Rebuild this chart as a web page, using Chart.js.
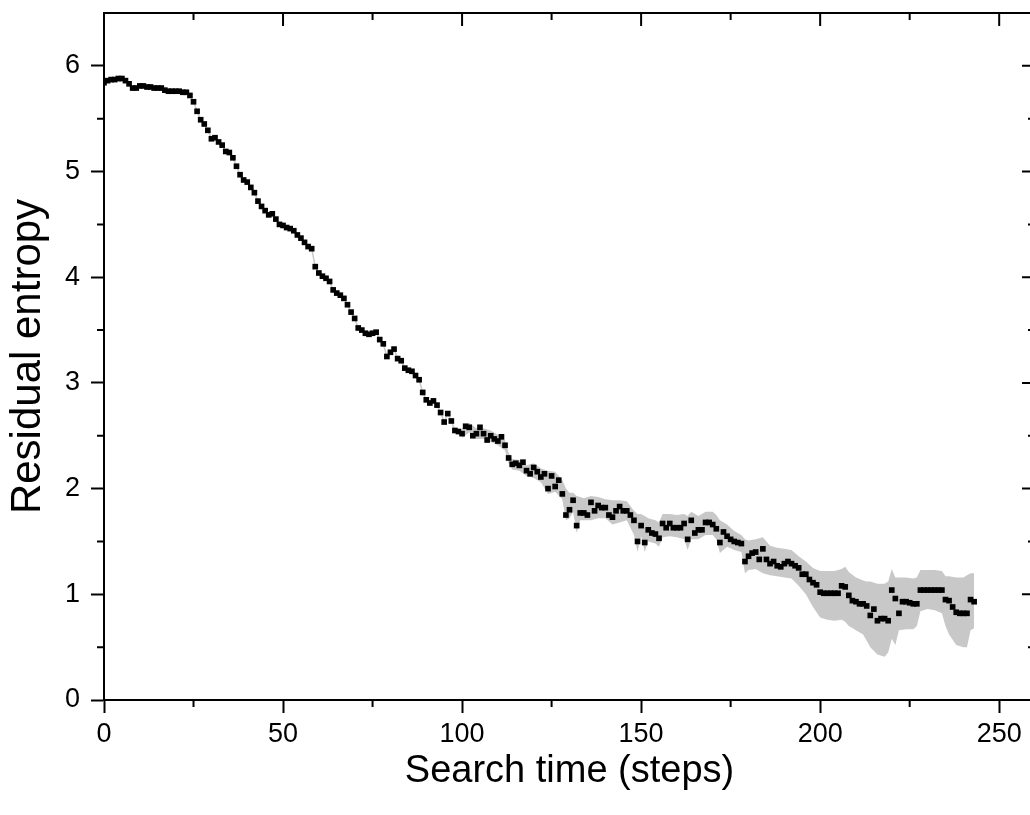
<!DOCTYPE html>
<html>
<head>
<meta charset="utf-8">
<script src="https://cdn.jsdelivr.net/npm/chart.js@4.4.0/dist/chart.umd.min.js"></script>
<style>
  html, body { margin: 0; padding: 0; background: #fff; overflow: hidden; }
  canvas { display: block; }
</style>
</head>
<body>
<canvas id="chart" width="1040" height="815"></canvas>
<script>
// residual entropy at each search step (0..243)
const entropy = [
  5.84, 5.86, 5.87, 5.87, 5.88, 5.88, 5.86, 5.83, 5.79, 5.79,
  5.81, 5.81, 5.80, 5.80, 5.79, 5.79, 5.79, 5.77, 5.76, 5.76,
  5.76, 5.76, 5.75, 5.75, 5.72, 5.66, 5.57, 5.49, 5.45, 5.39,
  5.31, 5.32, 5.28, 5.25, 5.19, 5.18, 5.13, 5.05, 4.97, 4.92,
  4.90, 4.85, 4.80, 4.72, 4.67, 4.63, 4.59, 4.60, 4.55, 4.50,
  4.49, 4.47, 4.46, 4.44, 4.40, 4.37, 4.33, 4.29, 4.27, 4.10,
  4.04, 4.01, 3.99, 3.96, 3.88, 3.85, 3.83, 3.80, 3.74, 3.67,
  3.61, 3.52, 3.50, 3.47, 3.46, 3.47, 3.48, 3.41, 3.37, 3.25,
  3.29, 3.32, 3.23, 3.21, 3.14, 3.12, 3.11, 3.07, 3.03, 2.91,
  2.84, 2.81, 2.83, 2.79, 2.72, 2.63, 2.71, 2.64, 2.55, 2.54,
  2.52, 2.59, 2.58, 2.50, 2.52, 2.58, 2.52, 2.46, 2.50, 2.47,
  2.45, 2.49, 2.41, 2.29, 2.23, 2.24, 2.22, 2.25, 2.17, 2.14,
  2.20, 2.16, 2.11, 2.14, 2.00, 2.12, 2.02, 2.08, 1.95, 1.75,
  1.80, 1.89, 1.65, 1.77, 1.77, 1.75, 1.87, 1.79, 1.84, 1.82,
  1.82, 1.75, 1.73, 1.79, 1.83, 1.79, 1.79, 1.75, 1.70, 1.50,
  1.65, 1.49, 1.61, 1.58, 1.57, 1.53, 1.67, 1.63, 1.67, 1.63,
  1.63, 1.63, 1.67, 1.52, 1.70, 1.58, 1.61, 1.61, 1.68, 1.68,
  1.66, 1.62, 1.49, 1.59, 1.55, 1.52, 1.50, 1.49, 1.48, 1.31,
  1.36, 1.39, 1.40, 1.33, 1.43, 1.33, 1.29, 1.31, 1.27, 1.26,
  1.29, 1.31, 1.29, 1.27, 1.25, 1.19, 1.19, 1.14, 1.11, 1.09,
  1.02, 1.01, 1.01, 1.01, 1.01, 1.01, 1.08, 1.07, 0.99, 0.94,
  0.93, 0.91, 0.91, 0.89, 0.80, 0.86, 0.75, 0.77, 0.77, 0.75,
  1.04, 0.96, 0.82, 0.93, 0.93, 0.92, 0.91, 0.91, 1.04, 1.04,
  1.04, 1.04, 1.04, 1.04, 1.04, 0.95, 0.94, 0.88, 0.83, 0.82,
  0.82, 0.82, 0.95, 0.93
];

// spread band (grey), read at these steps
const bandSteps = [
  100, 102, 104, 106, 108, 110, 112, 113, 114, 116, 118, 120, 122, 124, 126, 128,
  129, 130, 131, 132, 133, 134, 136, 138, 140, 142, 144, 146, 148, 149, 150, 151,
  152, 154, 155, 156, 158, 160, 162, 163, 164, 166, 168, 170, 171, 172, 174, 176,
  178, 179, 180, 182, 184, 186, 188, 190, 192, 194, 196, 198, 200, 202, 204, 206,
  207, 208, 210, 212, 213, 214, 216, 218, 219, 220, 221, 222, 224, 226, 227, 228,
  230, 232, 234, 235, 236, 238, 240, 241, 242, 243
];
const bandUpper = [
  2.57, 2.62, 2.57, 2.57, 2.55, 2.51, 2.46, 2.34, 2.28, 2.27, 2.22, 2.24, 2.19, 2.17, 2.16, 2.08,
  2.00, 1.96, 1.96, 1.93, 1.92, 1.91, 1.93, 1.92, 1.90, 1.89, 1.89, 1.88, 1.79, 1.76, 1.76, 1.74,
  1.72, 1.70, 1.68, 1.76, 1.76, 1.75, 1.76, 1.74, 1.78, 1.74, 1.78, 1.78, 1.75, 1.70, 1.66, 1.60,
  1.56, 1.52, 1.51, 1.52, 1.54, 1.46, 1.44, 1.43, 1.42, 1.36, 1.31, 1.25, 1.22, 1.22, 1.22, 1.24,
  1.26, 1.21, 1.16, 1.13, 1.12, 1.12, 1.10, 1.10, 1.12, 1.24, 1.16, 1.16, 1.16, 1.15, 1.16, 1.23,
  1.23, 1.23, 1.22, 1.17, 1.17, 1.16, 1.16, 1.18, 1.20, 1.20
];
const bandLower = [
  2.48, 2.53, 2.47, 2.47, 2.44, 2.41, 2.36, 2.24, 2.18, 2.17, 2.12, 2.10, 2.06, 1.95, 1.97, 1.90,
  1.70, 1.72, 1.78, 1.58, 1.70, 1.70, 1.70, 1.72, 1.72, 1.66, 1.68, 1.70, 1.56, 1.40, 1.55, 1.40,
  1.50, 1.48, 1.45, 1.54, 1.55, 1.54, 1.52, 1.42, 1.52, 1.52, 1.56, 1.56, 1.52, 1.39, 1.45, 1.42,
  1.40, 1.20, 1.23, 1.24, 1.20, 1.18, 1.17, 1.16, 1.15, 1.08, 1.00, 0.88, 0.78, 0.76, 0.75, 0.76,
  0.74, 0.70, 0.66, 0.62, 0.56, 0.50, 0.43, 0.41, 0.45, 0.58, 0.52, 0.66, 0.67, 0.67, 0.70, 0.84,
  0.86, 0.85, 0.82, 0.70, 0.62, 0.52, 0.50, 0.50, 0.66, 0.68
];

const xTicks = [0, 50, 100, 150, 200, 250];
const xMinorTicks = [25, 75, 125, 175, 225];
const yTicks = [0, 1, 2, 3, 4, 5, 6];
const yMinorTicks = [0.5, 1.5, 2.5, 3.5, 4.5, 5.5];

const FONT = "'Liberation Sans', Arial, sans-serif";
const BAND = "#c8c8c8";

// top/right axes and minor ticks
const frame = {
  id: "frame",
  afterDraw(chart) {
    const { ctx, chartArea: a, scales: { x, y } } = chart;
    ctx.save();
    ctx.strokeStyle = "#000";
    ctx.lineWidth = 2;
    ctx.strokeRect(a.left, a.top, a.right - a.left, a.bottom - a.top);
    ctx.beginPath();
    xTicks.forEach((v) => {
      const px = x.getPixelForValue(v);
      ctx.moveTo(px, a.top);
      ctx.lineTo(px, a.top + 13);
    });
    xMinorTicks.forEach((v) => {
      const px = x.getPixelForValue(v);
      ctx.moveTo(px, a.bottom);
      ctx.lineTo(px, a.bottom + 7);
      ctx.moveTo(px, a.top);
      ctx.lineTo(px, a.top + 7);
    });
    yTicks.forEach((v) => {
      const py = y.getPixelForValue(v);
      ctx.moveTo(a.right, py);
      ctx.lineTo(a.right - 13, py);
    });
    yMinorTicks.forEach((v) => {
      const py = y.getPixelForValue(v);
      ctx.moveTo(a.left, py);
      ctx.lineTo(a.left - 7, py);
      ctx.moveTo(a.right, py);
      ctx.lineTo(a.right - 7, py);
    });
    ctx.stroke();
    ctx.restore();
  },
};

const axisCommon = {
  grid: {
    display: true,
    drawOnChartArea: false,
    drawTicks: true,
    tickLength: 13,
    tickWidth: 2,
    tickColor: "#000",
  },
  border: { display: true, color: "#000", width: 2 },
};

new Chart(document.getElementById("chart"), {
  type: "scatter",
  data: {
    datasets: [
      {
        label: "Residual entropy",
        data: entropy.map((v, i) => ({ x: i, y: v })),
        showLine: true,
        borderColor: BAND,
        borderWidth: 1.5,
        pointStyle: "rect",
        pointRadius: 4,
        pointBorderWidth: 0,
        pointBackgroundColor: "#000",
      },
      {
        label: "upper",
        data: bandSteps.map((s, i) => ({ x: s, y: bandUpper[i] })),
        showLine: true,
        borderWidth: 0,
        pointRadius: 0,
        backgroundColor: BAND,
        fill: "+1",
      },
      {
        label: "lower",
        data: bandSteps.map((s, i) => ({ x: s, y: bandLower[i] })),
        showLine: true,
        borderWidth: 0,
        pointRadius: 0,
        backgroundColor: BAND,
      },
    ],
  },
  options: {
    responsive: false,
    animation: false,
    layout: { padding: { top: 13, right: 5, left: 0, bottom: 0 } },
    plugins: {
      legend: { display: false },
      tooltip: { enabled: false },
    },
    scales: {
      x: {
        ...axisCommon,
        type: "linear",
        min: 0,
        max: 260,
        afterBuildTicks: (s) => { s.ticks = xTicks.map((v) => ({ value: v })); },
        afterFit: (s) => {
          s.height = 115;
          s.paddingLeft = 0;
          s.paddingRight = 0;
        },
        ticks: {
          color: "#000",
          padding: 5,
          maxRotation: 0,
          font: { family: FONT, size: 27 },
        },
        title: {
          display: true,
          text: "Search time (steps)",
          color: "#000",
          padding: { top: 0, bottom: 21 },
          font: { family: FONT, size: 38 },
        },
      },
      y: {
        ...axisCommon,
        type: "linear",
        min: 0,
        max: 6.5,
        afterBuildTicks: (s) => { s.ticks = yTicks.map((v) => ({ value: v })); },
        afterFit: (s) => {
          s.width = 104;
          s.paddingTop = 0;
          s.paddingBottom = 0;
        },
        ticks: {
          color: "#000",
          padding: 11,
          font: { family: FONT, size: 27 },
        },
        title: {
          display: true,
          text: "Residual entropy",
          color: "#000",
          padding: { top: 3, bottom: 0 },
          font: { family: FONT, size: 42 },
        },
      },
    },
  },
  plugins: [frame],
});
</script>
</body>
</html>
